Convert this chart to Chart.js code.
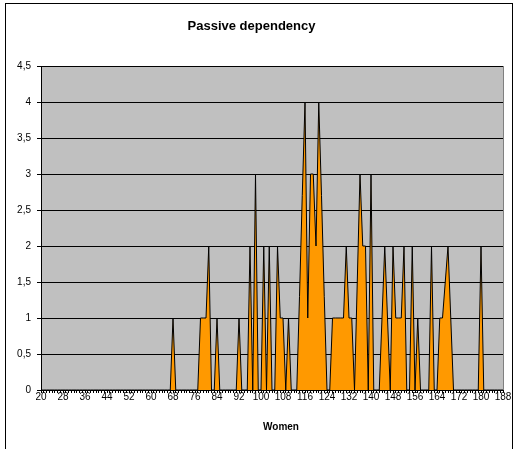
<!DOCTYPE html>
<html>
<head>
<meta charset="utf-8">
<title>Passive dependency</title>
<script src="https://cdn.jsdelivr.net/npm/chart.js@4.4.1/dist/chart.umd.min.js"></script>
<style>
  html, body { margin: 0; padding: 0; background: #fff; }
  canvas { display: block; }
</style>
</head>
<body>
<canvas id="dependencyChart" width="514" height="449"></canvas>
<script>
// Women, one category per number (20 .. 188)
const women = [
   20,  21,  22,  23,  24,  25,  26,  27,
   28,  29,  30,  31,  32,  33,  34,  35,
   36,  37,  38,  39,  40,  41,  42,  43,
   44,  45,  46,  47,  48,  49,  50,  51,
   52,  53,  54,  55,  56,  57,  58,  59,
   60,  61,  62,  63,  64,  65,  66,  67,
   68,  69,  70,  71,  72,  73,  74,  75,
   76,  77,  78,  79,  80,  81,  82,  83,
   84,  85,  86,  87,  88,  89,  90,  91,
   92,  93,  94,  95,  96,  97,  98,  99,
  100, 101, 102, 103, 104, 105, 106, 107,
  108, 109, 110, 111, 112, 113, 114, 115,
  116, 117, 118, 119, 120, 121, 122, 123,
  124, 125, 126, 127, 128, 129, 130, 131,
  132, 133, 134, 135, 136, 137, 138, 139,
  140, 141, 142, 143, 144, 145, 146, 147,
  148, 149, 150, 151, 152, 153, 154, 155,
  156, 157, 158, 159, 160, 161, 162, 163,
  164, 165, 166, 167, 168, 169, 170, 171,
  172, 173, 174, 175, 176, 177, 178, 179,
  180, 181, 182, 183, 184, 185, 186, 187,
  188
];

// Passive dependency score for each woman, same row layout as above
const passiveDependency = [
  0, 0, 0, 0, 0, 0, 0, 0,
  0, 0, 0, 0, 0, 0, 0, 0,
  0, 0, 0, 0, 0, 0, 0, 0,
  0, 0, 0, 0, 0, 0, 0, 0,
  0, 0, 0, 0, 0, 0, 0, 0,
  0, 0, 0, 0, 0, 0, 0, 0,
  1, 0, 0, 0, 0, 0, 0, 0,
  0, 0, 1, 1, 1, 2, 0, 0,
  1, 0, 0, 0, 0, 0, 0, 0,
  1, 0, 0, 0, 2, 0, 3, 0,
  0, 2, 0, 2, 0, 0, 2, 1,
  1, 0, 1, 0, 0, 0, 1.3, 2.7,
  4, 1, 3, 3, 2, 4, 2.7, 1.3,
  0, 0, 1, 1, 1, 1, 1, 2,
  1, 1, 0, 1.5, 3, 2, 2, 0,
  3, 0, 0, 0, 1, 2, 1, 0,
  2, 1, 1, 1, 2, 0, 0, 2,
  0, 1, 0, 0, 0, 0, 2, 0,
  0, 1, 1, 1.5, 2, 1, 0, 0,
  0, 0, 0, 0, 0, 0, 0, 0,
  2, 0, 0, 0, 0, 0, 0, 0,
  0
];

// Only every eighth category gets a label on the x axis
const xTickLabels = [20, 28, 36, 44, 52, 60, 68, 76, 84, 92, 100, 108, 116, 124, 132, 140, 148, 156, 164, 172, 180, 188];

const fontFamily = '"Liberation Sans", Arial, sans-serif';

Chart.defaults.font.family = fontFamily;
Chart.defaults.color = '#000';

// grey plot area, its right edge, the frame round the chart and the axis title
const excelLook = {
  id: 'excelLook',
  beforeDraw(chart) {
    const { ctx, chartArea: a } = chart;
    ctx.save();
    ctx.fillStyle = '#c0c0c0';
    ctx.fillRect(a.left, a.top, a.right - a.left, a.bottom - a.top);
    ctx.restore();
  },
  afterDraw(chart) {
    const { ctx, chartArea: a } = chart;
    ctx.save();
    ctx.strokeStyle = '#808080';
    ctx.lineWidth = 1;
    ctx.beginPath();
    ctx.moveTo(Math.round(a.right) + 0.5, a.top);
    ctx.lineTo(Math.round(a.right) + 0.5, a.bottom);
    ctx.stroke();

    ctx.strokeStyle = '#000';
    ctx.strokeRect(5.5, 3.5, 507, 460);

    ctx.fillStyle = '#000';
    ctx.font = 'bold 10px ' + fontFamily;
    ctx.textAlign = 'center';
    ctx.textBaseline = 'middle';
    ctx.fillText('Women', 281, 427);
    ctx.restore();
  }
};

const ctx = document.getElementById('dependencyChart').getContext('2d');
new Chart(ctx, {
  type: 'line',
  data: {
    labels: women.map(String),
    datasets: [{
      label: 'Passive dependency',
      data: passiveDependency,
      borderColor: '#000',
      borderWidth: 1,
      backgroundColor: '#ff9900',
      fill: 'origin',
      tension: 0,
      pointRadius: 0
    }]
  },
  options: {
    responsive: false,
    animation: false,
    layout: { padding: { left: 0, right: 11, top: 0, bottom: 0 } },
    plugins: {
      legend: { display: false },
      tooltip: { enabled: false },
      title: {
        display: true,
        text: 'Passive dependency',
        font: { size: 13, weight: 'bold' },
        padding: { top: 19, bottom: 31.4 }
      }
    },
    scales: {
      x: {
        type: 'category',
        offset: false,
        afterFit: scale => { scale.height = 59; },
        grid: {
          drawOnChartArea: false,
          drawTicks: true,
          tickLength: 3,
          color: '#000'
        },
        border: { display: true, color: '#000', width: 1 },
        ticks: {
          autoSkip: false,
          maxRotation: 0,
          minRotation: 0,
          padding: -2,
          font: { size: 10 },
          callback: function (value) {
            const w = Number(this.getLabelForValue(value));
            return xTickLabels.includes(w) ? String(w) : '';
          }
        }
      },
      y: {
        min: 0,
        max: 4.5,
        afterFit: scale => { scale.width = 41; },
        grid: {
          color: '#000',
          lineWidth: 1,
          tickLength: 4
        },
        border: { display: true, color: '#000', width: 1 },
        ticks: {
          stepSize: 0.5,
          padding: 6,
          font: { size: 10 },
          callback: v => String(v).replace('.', ',')
        }
      }
    }
  },
  plugins: [excelLook]
});
</script>
</body>
</html>
